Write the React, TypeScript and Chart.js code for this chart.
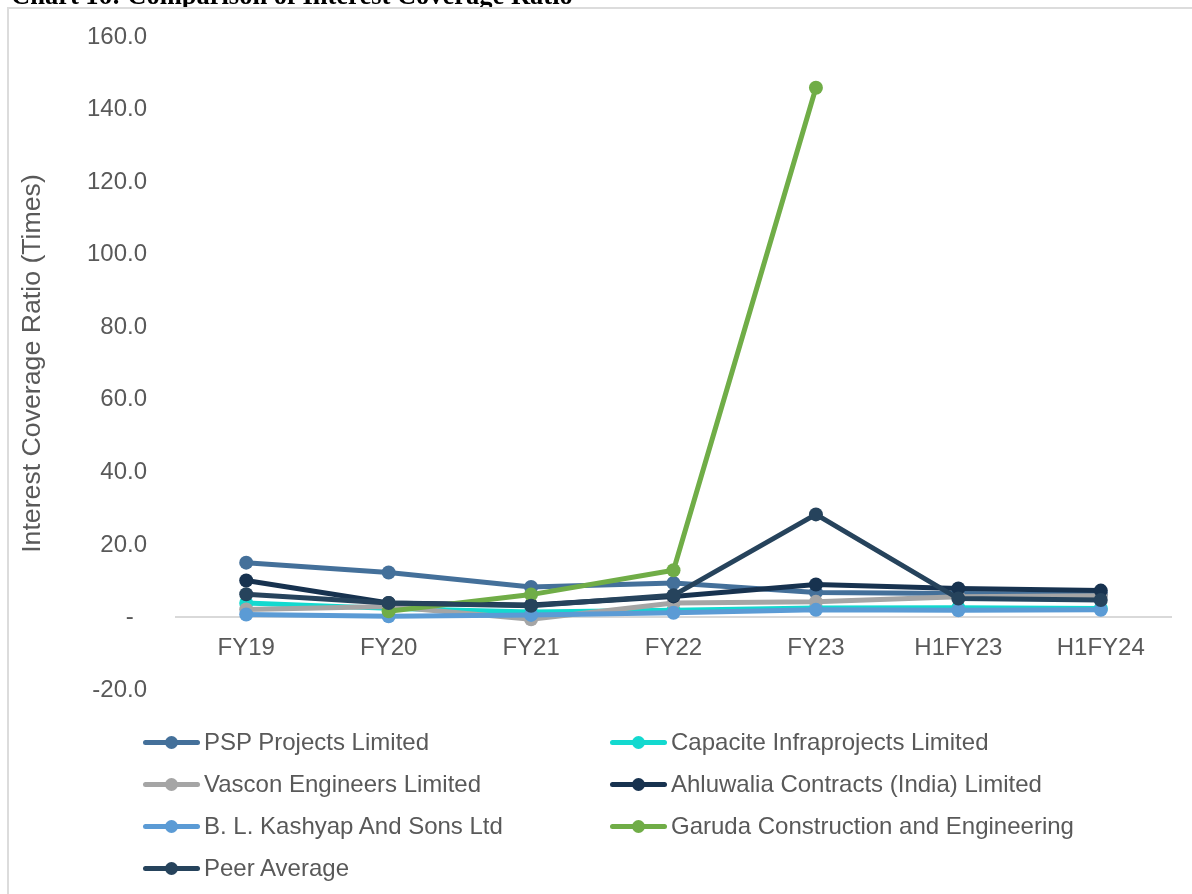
import React, { useEffect, useRef } from "react";
import { Chart, registerables } from "chart.js";

Chart.register(...registerables);

const categories = ["FY19", "FY20", "FY21", "FY22", "FY23", "H1FY23", "H1FY24"];
const pspValues = [15.1, 12.4, 8.4, 9.5, 6.9, 6.6, 6.4];
const capaciteValues = [4.0, 2.5, 1.5, 2.0, 2.6, 2.7, 2.5];
const vasconValues = [2.2, 3.0, -0.5, 4.0, 4.3, 5.7, 6.0];
const ahluwaliaValues = [10.2, 4.0, 3.4, 5.8, 9.1, 8.0, 7.4];
const blKashyapValues = [0.8, 0.3, 0.7, 1.3, 2.1, 2.0, 2.1];
const garudaValues: (number | null)[] = [null, 1.7, 6.3, 13.0, 146.0, null, null];
const peerAverageValues = [6.4, 4.0, 3.2, 6.1, 28.4, 5.2, 4.8];

const seriesNames = [
  "PSP Projects Limited",
  "Capacite Infraprojects Limited",
  "Vascon Engineers Limited",
  "Ahluwalia Contracts (India) Limited",
  "B. L. Kashyap And Sons Ltd",
  "Garuda Construction and Engineering",
  "Peer Average",
];
const seriesColors = ["#44709A", "#13D9CF", "#A5A5A5", "#17324F", "#5B9BD5", "#70AD47", "#26435C"];
const seriesValues = [
  pspValues,
  capaciteValues,
  vasconValues,
  ahluwaliaValues,
  blKashyapValues,
  garudaValues,
  peerAverageValues,
];

const yMin = -20;
const yMax = 160;
const yStep = 20;

const chartTitle = "Chart 16: Comparison of Interest Coverage Ratio";
const yAxisTitle = "Interest Coverage Ratio (Times)";

const FONT = "'Liberation Sans', Arial, sans-serif";
const TEXT = "#595959";

export default function App() {
  const ref = useRef<HTMLCanvasElement | null>(null);

  useEffect(() => {
    document.documentElement.style.overflow = "hidden";
    document.body.style.overflow = "hidden";
    const canvas = ref.current;
    if (!canvas) return;
    const chart = new Chart(canvas, {
      type: "line",
      data: {
        labels: categories,
        datasets: seriesNames.map((name, i) => ({
          label: name,
          data: seriesValues[i],
          borderColor: seriesColors[i],
          backgroundColor: seriesColors[i],
          pointBackgroundColor: seriesColors[i],
          pointBorderColor: seriesColors[i],
          pointBorderWidth: 0,
          pointRadius: 7,
          pointHoverRadius: 7,
          borderWidth: 5,
          tension: 0,
          spanGaps: false,
          order: seriesNames.length - i,
        })),
      },
      options: {
        animation: false,
        responsive: false,
        maintainAspectRatio: false,
        events: [],
        layout: { padding: { top: 37, right: 20, bottom: 40, left: 0 } },
        plugins: {
          legend: { display: false },
          tooltip: { enabled: false },
          title: { display: false },
        },
        scales: {
          x: {
            type: "category",
            offset: true,
            position: { y: 0 } as any,
            grid: { display: false, drawTicks: false },
            border: { display: false },
            ticks: {
              color: TEXT,
              font: { family: FONT, size: 24 },
              padding: 17,
              autoSkip: false,
              maxRotation: 0,
            },
            afterFit: (s: any) => {
              s.height = 0;
              s.paddingLeft = 0;
              s.paddingRight = 0;
            },
          },
          y: {
            min: yMin,
            max: yMax,
            border: { display: false },
            grid: {
              drawTicks: false,
              lineWidth: 2,
              color: (ctx: any) => (ctx.tick && ctx.tick.value === 0 ? "#d9d9d9" : "rgba(0,0,0,0)"),
            },
            ticks: {
              stepSize: yStep,
              color: TEXT,
              font: { family: FONT, size: 24 },
              padding: 28,
              callback: (v: any) => (Number(v) === 0 ? "-  " : Number(v).toFixed(1)),
            },
            title: {
              display: true,
              text: yAxisTitle,
              color: TEXT,
              font: { family: FONT, size: 26.7, weight: "normal" },
              padding: { top: 17, bottom: 0 },
            },
            afterFit: (s: any) => {
              s.width = 175;
              s.paddingTop = 0;
              s.paddingBottom = 0;
            },
          },
        },
      },
    });
    return () => chart.destroy();
  }, []);

  const colLeft = [143, 610];
  const rowCenter = [742, 784, 826, 868];

  return (
    <div>
      <div
        style={{
          position: "fixed",
          left: 11,
          top: -18,
          fontFamily: "'Liberation Serif', 'Times New Roman', serif",
          fontWeight: "bold",
          fontSize: 26.5,
          lineHeight: "26px",
          whiteSpace: "nowrap",
          color: "#000",
        }}
      >
        {chartTitle}
      </div>
      <div
        style={{
          position: "fixed",
          left: 7,
          top: 7,
          width: 1400,
          height: 1200,
          borderLeft: "2px solid #dcdcdc",
          borderTop: "2px solid #dcdcdc",
          background: "#fff",
        }}
      />
      <canvas
        ref={ref}
        width={1192}
        height={730}
        style={{ position: "fixed", left: 0, top: 0, width: 1192, height: 730 }}
      />
      {seriesNames.map((name, i) => {
        const col = i % 2;
        const row = Math.floor(i / 2);
        const left = colLeft[col];
        const cy = rowCenter[row];
        const color = seriesColors[i];
        return (
          <div
            key={name}
            style={{ position: "fixed", left, top: cy - 16, height: 32, width: 460 }}
          >
            <div
              style={{
                position: "absolute",
                left: 0,
                top: 16 - 2.5,
                width: 57,
                height: 5,
                borderRadius: 2.5,
                background: color,
              }}
            />
            <div
              style={{
                position: "absolute",
                left: 28.5 - 6.5,
                top: 16 - 6.5,
                width: 13,
                height: 13,
                borderRadius: "50%",
                background: color,
              }}
            />
            <div
              style={{
                position: "absolute",
                left: 61,
                top: 0,
                height: 32,
                lineHeight: "32px",
                fontFamily: FONT,
                fontSize: 24,
                color: TEXT,
                whiteSpace: "nowrap",
              }}
            >
              {name}
            </div>
          </div>
        );
      })}
    </div>
  );
}
